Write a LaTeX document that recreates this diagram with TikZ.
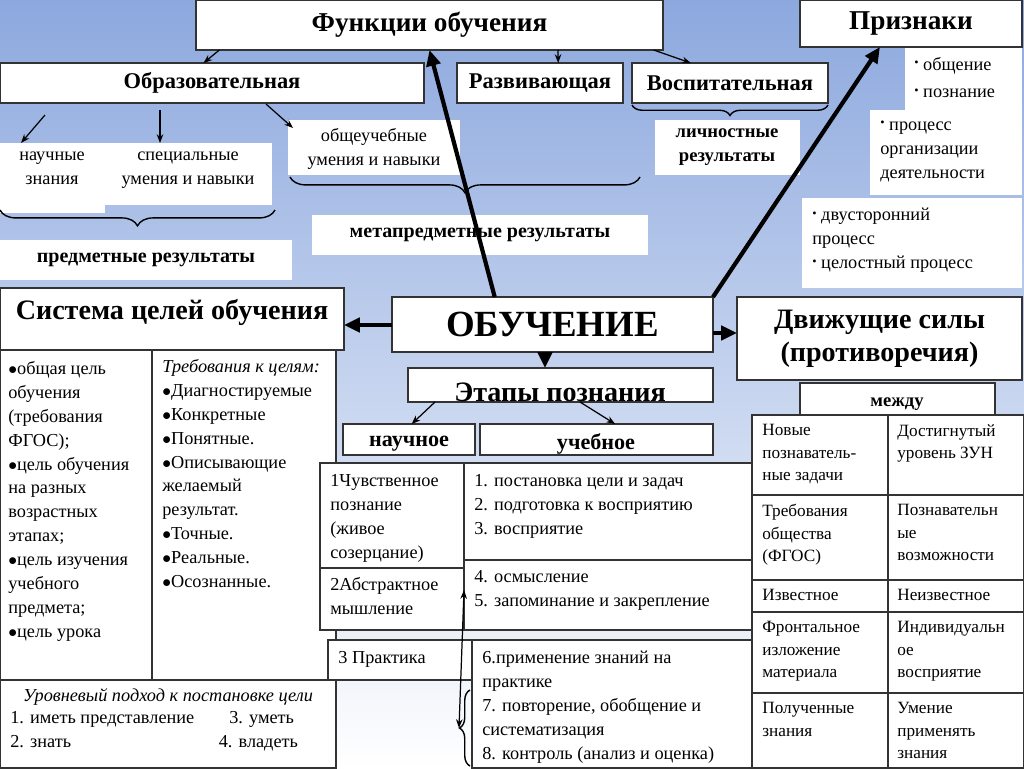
\documentclass[tikz,border=0pt]{standalone}
\usepackage{fontspec}
\setmainfont{Liberation Serif}
\usetikzlibrary{calc,arrows.meta,decorations.pathreplacing}
\definecolor{bgtop}{RGB}{140,168,222}
\tikzset{
  box/.style={draw=black!80, fill=white, line width=0.8pt, inner sep=0pt, outer sep=0pt},
  pane/.style={fill=white, inner sep=0pt, outer sep=0pt},
  txt/.style={anchor=north west, align=left, inner sep=0pt, font=\fontsize{10.4}{13.6}\selectfont},
  arr/.style={-{Stealth[length=5pt]}, line width=0.7pt},
  bigarr/.style={-{Triangle[length=9pt,width=8pt]}, line width=2.4pt},
  brc/.style={decorate, decoration={brace, amplitude=9pt}, line width=0.8pt}
}
\newcommand\bx[6][box]{\node[#1, minimum width={(#5-#3)*0.02cm}, minimum height={(#6-#4)*0.02cm}] (#2) at ({(#3+#5)/2},{(#4+#6)/2}) {};}
\newcommand\dotb{\raisebox{2pt}{\scriptsize•}}
\begin{document}
\begin{tikzpicture}[x=0.02cm, y=-0.02cm]
  \shade[top color=bgtop, bottom color=white] (0,0) rectangle (1024,768);
  \useasboundingbox (0,0) rectangle (1024,768);

  % functions
  \bx{fo}{196}{0}{663}{50}
  \node[font=\fontsize{15.5}{17}\bfseries] at (fo) {Функции обучения};
  \bx{obr}{0}{63}{424}{103}
  \node[font=\fontsize{12.8}{14}\bfseries] at (obr) {Образовательная};
  \bx{raz}{457}{63}{623}{103}
  \node[font=\fontsize{12.8}{14}\bfseries] at (raz) {Развивающая};
  \bx{vos}{632}{63}{828}{103}
  \node[font=\fontsize{12.8}{14}\bfseries] at (vos) {Воспитательная};

  \bx[pane]{nz}{0}{143}{105}{213}
  \node[txt, anchor=north, align=center] at (52,152) {научные\\знания};
  \bx[pane]{sp}{105}{143}{272}{205}
  \node[txt, anchor=north, align=center] at (188,152) {специальные\\умения и навыки};
  \bx[pane]{ou}{288}{120}{460}{175}
  \node[txt, anchor=north, align=center] at (374,128) {общеучебные\\умения и навыки};
  \bx[pane]{lr}{655}{120}{800}{175}
  \node[txt, anchor=north, align=center, font=\fontsize{10.6}{13.6}\bfseries] at (727,128) {личностные\\результаты};
  \bx[pane]{mr}{312}{215}{648}{255}
  \node[font=\fontsize{11.4}{13}\bfseries] at (mr) {метапредметные результаты};
  \bx[pane]{pr2}{0}{240}{292}{280}
  \node[font=\fontsize{11.4}{13}\bfseries] at (pr2) {предметные результаты};

  \draw[brc] (275,210) -- (0,210);
  \draw[brc] (640,177) -- (290,177);
  \draw[brc, decoration={amplitude=6pt}] (828,105) -- (632,105);

  \draw[arr] ($(fo.south west)!0.05!(fo.south east)$) -- ($(obr.north west)!0.48!(obr.north east)$);
  \draw[arr] ($(fo.south west)!0.775!(fo.south east)$) -- ($(raz.north west)!0.61!(raz.north east)$);
  \draw[arr] ($(fo.south west)!0.98!(fo.south east)$) -- ($(vos.north west)!0.3!(vos.north east)$);
  \draw[arr] (45,115) -- ($(nz.north west)!0.2!(nz.north east)$);
  \draw[arr] (160,110) -- (sp.north -| 160,0);
  \draw[arr] (266,104) -- ($(ou.north west)+(5,8)$);

  % signs
  \bx{pz}{800}{0}{1022}{47}
  \node[font=\fontsize{15.5}{17}\bfseries] at (pz) {Признаки};
  \bx[pane]{p1}{905}{48}{1022}{110}
  \node[txt] at (914,57) {\dotb\ общение\\[2pt]\dotb\ познание};
  \bx[pane]{p2}{870}{110}{1022}{195}
  \node[txt] at (880,121) {\dotb\ процесс\\организации\\деятельности};
  \bx[pane]{p3}{802}{198}{1022}{288}
  \node[txt] at (812,208) {\dotb\ двусторонний\\процесс\\\dotb\ целостный\ процесс};

  % center
  \bx{ob}{392}{297}{713}{352}
  \node[font=\fontsize{21}{23}\bfseries] at (ob) {ОБУЧЕНИЕ};
  \draw[bigarr] ($(ob.north west)!0.32!(ob.north east)$) -- (fo.south);
  \draw[bigarr] (ob.north east) -- ($(pz.south west)!0.36!(pz.south east)$);

  % goals
  \bx{sc}{0}{288}{344}{350}
  \node[font=\fontsize{16}{18}\bfseries] at (172,312) {Система целей обучения};
  \draw[bigarr] (ob.west |- 0,325) -- (sc.east |- 0,325);
  \bx{g1}{0}{350}{152}{680}
  \bx{g2}{152}{350}{336}{680}
  \node[txt] at (8,361) {$\bullet$общая цель\\обучения\\(требования\\ФГОС);\\$\bullet$цель обучения\\на разных\\возрастных\\этапах;\\$\bullet$цель изучения\\учебного\\предмета;\\$\bullet$цель урока};
  \node[txt] at (162,359) {\textit{Требования к целям:}\\$\bullet$Диагностируемые\\$\bullet$Конкретные\\$\bullet$Понятные.\\$\bullet$Описывающие\\желаемый\\результат.\\$\bullet$Точные.\\$\bullet$Реальные.\\$\bullet$Осознанные.};
  \bx{ur}{0}{680}{336}{768}
  \node[txt, anchor=north, align=center] at (168,688) {\textit{Уровневый подход к постановке цели}};
  \node[txt] at (10,711) {1. иметь представление\\2. знать};
  \node[txt] at (229,711) {3. уметь\\[0pt]\hspace*{-6pt}4. владеть};

  % driving forces
  \bx{ds}{737}{297}{1022}{380}
  \node[font=\fontsize{16}{19}\bfseries, align=center] at (ds) {Движущие силы\\(противоречия)};
  \draw[bigarr] (ob.east |- 0,333) -- (ds.west |- 0,333);
  \bx{mz}{800}{383}{995}{415}
  \node[font=\fontsize{10.6}{12}\bfseries] at (897,404) {между};
  \foreach \ya/\yb/\ta/\tb in {415/495/{Новые\\познаватель-\\ные задачи}/{Достигнутый\\уровень ЗУН},
      495/580/{Требования\\общества\\(ФГОС)}/{Познавательн\\ые\\возможности},
      580/612/{Известное}/{Неизвестное},
      612/693/{Фронтальное\\изложение\\материала}/{Индивидуальн\\ое\\восприятие},
      693/768/{Полученные\\знания}/{Умение\\применять\\знания}} {
    \bx{l\ya}{752}{\ya}{888}{\yb}
    \bx{r\ya}{888}{\ya}{1024}{\yb}
    \node[txt, font=\fontsize{9.8}{12.8}\selectfont] at (762,\ya+9) {\ta};
    \node[txt, font=\fontsize{9.8}{12.8}\selectfont] at (897,\ya+9) {\tb};
  }

  % stages
  \bx{ep}{408}{368}{713}{402}
  \node[font=\fontsize{16}{18}\bfseries] at (560,392) {Этапы познания};
  \draw[bigarr] (ob.south -| 545,0) -- (ep.north -| 545,0);
  \bx{nc}{343}{424}{475}{455}
  \node[font=\fontsize{12.6}{14}\bfseries] at (409,444) {научное};
  \bx{uc}{480}{424}{713}{455}
  \node[font=\fontsize{12.6}{14}\bfseries] at (596,444) {учебное};
  \draw[arr] (435,402) -- ($(nc.north west)!0.52!(nc.north east)$);
  \draw[arr] (580,402) -- ($(uc.north west)!0.58!(uc.north east)$);

  \bx{s1}{320}{463}{464}{568}
  \bx{s2}{320}{568}{464}{630}
  \bx{t1}{464}{463}{752}{560}
  \bx{t2}{464}{560}{752}{630}
  \bx{s3}{328}{640}{472}{680}
  \bx{t3}{472}{640}{752}{768}
  \node[txt] at (330,474) {1Чувственное\\познание\\(живое\\созерцание)};
  \node[txt] at (330,577) {2Абстрактное\\мышление};
  \node[txt] at (338,651) {3 Практика};
  \node[txt] at (474,474) {1. постановка цели и задач\\2. подготовка к восприятию\\3. восприятие};
  \node[txt] at (474,570) {4. осмысление\\5. запоминание и закрепление};
  \node[txt] at (482,651) {6.применение знаний на\\практике\\7. повторение, обобщение и\\систематизация\\8. контроль (анализ и оценка)};
  \draw[brc, decoration={amplitude=6pt}] (470,766) -- (470,690);
  \coordinate (bt) at (459,728);
  \draw[{Stealth[length=5pt]}-{Stealth[length=5pt]}, line width=0.7pt] (bt) -- (464,590);
\end{tikzpicture}
\end{document}
